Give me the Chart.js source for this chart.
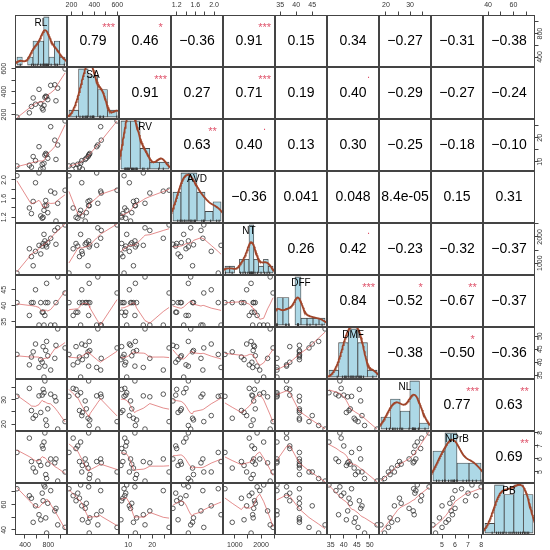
<!DOCTYPE html>
<html>
<head>
<meta charset="utf-8">
<script src="https://cdn.jsdelivr.net/npm/chart.js@4.4.1/dist/chart.umd.min.js"></script>
<style>
  html, body { margin:0; padding:0; background:#fff; }
  #wrap { position:relative; width:550px; height:550px; overflow:hidden; background:#fff; }
  #wrap canvas { position:absolute; }
</style>
</head>
<body>
<div id="wrap"></div>
<script>
// ================== DATA ==================
const varNames = ["RL", "SA", "RV", "AVD", "NT", "DFF", "DMF", "NL", "NPrB", "PB"];

const RL   = [262, 475, 510, 540, 580, 640, 670, 695, 710, 725, 740, 755, 770, 790, 840, 910, 930, 960, 1086];
const SA   = [178, 215, 270, 345, 290, 420, 295, 255, 240, 280, 350, 360, 355, 330, 455, 460, 320, 430, 598];
const RV   = [8.3, 8.6, 7.8, 12.2, 10.5, 16.3, 7.0, 9.0, 7.3, 9.4, 12.8, 13.5, 13.0, 11.5, 24.6, 19.0, 11.0, 17.0, 27.0];
const AVD  = [2.09, 1.40, 1.28, 1.54, 1.94, 2.15, 1.23, 1.18, 1.20, 1.35, 1.45, 1.56, 1.45, 1.30, 1.76, 1.72, 1.12, 1.50, 1.78];
const NT   = [620, 1550, 1250, 900, 1450, 1680, 1350, 1650, 1750, 2100, 1850, 1700, 1620, 1780, 1950, 2250, 1720, 2350, 2460];
const DFF  = [41, 37, 41, 41, 45, 34, 41, 38, 38, 34, 37, 41, 47, 41, 34, 34, 41, 49, 44];
const DMF  = [43, 39, 42, 44, 47, 38, 41, 40, 46, 34.3, 38.5, 44.5, 48, 42.5, 37, 41.5, 46.5, 52.8, 45.5];
const NL   = [31.5, 34.8, 25.6, 22.4, 23.5, 31.7, 24.8, 32, 34.4, 33.0, 37.9, 21.7, 19.4, 26.3, 32.4, 31.3, 29.6, 17.9, 21];
const NPrB = [6.5, 7.6, 5.8, 5.3, 5.0, 5.8, 5.5, 7.0, 6.8, 7.3, 8.0, 4.8, 4.5, 5.6, 6.0, 5.7, 6.0, 4.3, 5.0];
const PB   = [72.5, 67, 65, 46, 59, 52, 48, 69, 63, 75.5, 74, 49.5, 37.5, 61, 71, 55, 57, 44, 42];
const series = [RL, SA, RV, AVD, NT, DFF, DMF, NL, NPrB, PB];

// histogram breaks of the diagonal panels
const histBreaks = [
  [200, 300, 400, 500, 600, 700, 800, 900, 1000, 1100],
  [100, 200, 300, 400, 500, 600],
  [5, 10, 15, 20, 25, 30],
  [1.0, 1.2, 1.4, 1.6, 1.8, 2.0, 2.2],
  [600, 800, 1000, 1200, 1400, 1600, 1800, 2000, 2200, 2400, 2600],
  [34, 36, 38, 40, 42, 44, 46, 48, 50],
  [30, 35, 40, 45, 50, 55],
  [15, 20, 25, 30, 35, 40],
  [4, 5, 6, 7, 8],
  [30, 40, 50, 60, 70, 80]
];

// outer axis ticks and their labels ('' = tick without label)
const axisTicks = [
  [400, 600, 800, 1000],
  [200, 300, 400, 500, 600],
  [10, 15, 20, 25],
  [1.2, 1.4, 1.6, 1.8, 2.0],
  [1000, 1500, 2000, 2500],
  [35, 40, 45],
  [35, 40, 45, 50],
  [20, 25, 30, 35],
  [5, 6, 7, 8],
  [40, 50, 60, 70]
];
const axisLabels = [
  ["400", "", "800", ""],
  ["200", "", "400", "", "600"],
  ["10", "", "20", ""],
  ["1.2", "", "1.6", "", "2.0"],
  ["1000", "", "2000", ""],
  ["35", "40", "45"],
  ["35", "40", "45", "50"],
  ["20", "", "30", ""],
  ["5", "6", "7", "8"],
  ["40", "", "60", ""]
];

// upper triangle, row by row
const corrText = [
  ["0.79", "0.46", "\u22120.36", "0.91", "0.15", "0.34", "\u22120.27", "\u22120.31", "\u22120.38"],
  ["0.91", "0.27", "0.71", "0.19", "0.40", "\u22120.29", "\u22120.27", "\u22120.24"],
  ["0.63", "0.40", "0.13", "0.30", "\u22120.25", "\u22120.18", "\u22120.10"],
  ["\u22120.36", "0.041", "0.048", "8.4e-05", "0.15", "0.31"],
  ["0.26", "0.42", "\u22120.23", "\u22120.32", "\u22120.37"],
  ["0.84", "\u22120.52", "\u22120.67", "\u22120.37"],
  ["\u22120.38", "\u22120.50", "\u22120.36"],
  ["0.77", "0.63"],
  ["0.69"]
];
const corrStars = [
  ["***", "*", "", "***", "", "", "", "", ""],
  ["***", "", "***", "", ".", "", "", ""],
  ["**", ".", "", "", "", "", ""],
  ["", "", "", "", "", ""],
  ["", ".", "", "", ""],
  ["***", "*", "**", ""],
  ["", "*", ""],
  ["***", "**"],
  ["**"]
];

// ================== CONFIG ==================
const FONT = "'Liberation Sans', Arial, Helvetica, sans-serif";
const CELL = 52, X0 = 15, Y0 = 15, M = 15, TICK = 3.5;
const N = series.length;

// ================== HELPERS ==================
function extRange(v){
  const lo = Math.min(...v), hi = Math.max(...v), r = hi - lo;
  return [lo - 0.04 * r, hi + 0.04 * r];
}

function histogram(v, br){
  const counts = new Array(br.length - 1).fill(0);
  v.forEach(x => {
    for(let k = 0; k < br.length - 1; k++){
      const inLow = k === 0 ? x >= br[k] - 1e-9 : x > br[k] + 1e-9;
      if(inLow && x <= br[k + 1] + 1e-9){ counts[k]++; break; }
    }
  });
  return counts;
}

function quantile7(s, p){
  const h = (s.length - 1) * p, lo = Math.floor(h);
  const hi = Math.min(lo + 1, s.length - 1);
  return s[lo] + (h - lo) * (s[hi] - s[lo]);
}

function kde(v){
  const n = v.length;
  const mean = v.reduce((a, b) => a + b, 0) / n;
  const sd = Math.sqrt(v.reduce((a, b) => a + (b - mean) ** 2, 0) / (n - 1));
  const s = [...v].sort((a, b) => a - b);
  const iqr = quantile7(s, 0.75) - quantile7(s, 0.25);
  const bw = 0.9 * Math.min(sd, iqr / 1.34) * Math.pow(n, -0.2);
  const lo = s[0] - 3 * bw, hi = s[n - 1] + 3 * bw;
  const pts = [];
  for(let k = 0; k <= 160; k++){
    const x = lo + (hi - lo) * k / 160;
    let sum = 0;
    v.forEach(d => { const z = (x - d) / bw; sum += Math.exp(-0.5 * z * z); });
    pts.push({ x, y: sum / (n * bw * Math.sqrt(2 * Math.PI)) });
  }
  return pts;
}

// R's lowess (f = 2/3, iter = 3), as used by panel.smooth
function lowess(xIn, yIn, f, iter){
  const n = xIn.length;
  const ord = xIn.map((_, k) => k).sort((a, b) => xIn[a] - xIn[b]);
  const x = ord.map(k => xIn[k]), y = ord.map(k => yIn[k]);
  const ns = Math.max(2, Math.min(n, Math.floor(f * n + 1e-7)));
  const range = x[n - 1] - x[0];
  let rw = new Array(n).fill(1);
  const fit = new Array(n).fill(0);
  for(let it = 0; it <= iter; it++){
    let nleft = 0, nright = ns - 1;
    for(let i = 0; i < n; i++){
      while(nright < n - 1 && x[i] - x[nleft] > x[nright + 1] - x[i]){ nleft++; nright++; }
      const h = Math.max(x[i] - x[nleft], x[nright] - x[i]);
      const w = new Array(n).fill(0);
      let a = 0;
      for(let j = 0; j < n; j++){
        const r = Math.abs(x[j] - x[i]);
        if(r <= 0.999 * h){
          w[j] = (r <= 0.001 * h ? 1 : Math.pow(1 - Math.pow(r / h, 3), 3)) * rw[j];
          a += w[j];
        }
      }
      if(a <= 0){ fit[i] = y[i]; continue; }
      for(let j = 0; j < n; j++) w[j] /= a;
      if(h > 0){
        let xm = 0;
        for(let j = 0; j < n; j++) xm += w[j] * x[j];
        let c = 0;
        for(let j = 0; j < n; j++) c += w[j] * (x[j] - xm) ** 2;
        if(Math.sqrt(c) > 0.001 * range){
          const b = (x[i] - xm) / c;
          for(let j = 0; j < n; j++) w[j] *= b * (x[j] - xm) + 1;
        }
      }
      let s = 0;
      for(let j = 0; j < n; j++) s += w[j] * y[j];
      fit[i] = s;
    }
    if(it === iter) break;
    const res = y.map((v, k) => v - fit[k]);
    const ar = res.map(Math.abs).sort((p, q) => p - q);
    const m1 = Math.floor(n / 2);
    const cmad = n % 2 ? 6 * ar[m1] : 3 * (ar[m1 - 1] + ar[m1]);
    if(cmad < 1e-7 * ar.reduce((p, q) => p + q, 0) / n) break;
    rw = res.map(r => {
      r = Math.abs(r);
      return r <= 0.001 * cmad ? 1 : r > 0.999 * cmad ? 0 : (1 - (r / cmad) ** 2) ** 2;
    });
  }
  return x.map((v, k) => ({ x: v, y: fit[k] }));
}

const measureCtx = document.createElement('canvas').getContext('2d');
measureCtx.font = `7px ${FONT}`;
function widest(labels){
  return Math.max(...labels.map(s => measureCtx.measureText(s).width));
}

// ================== PANEL PLUGIN ==================
const panelPlugin = {
  id: 'panel',
  afterDatasetsDraw(chart, args, opts){
    const { ctx, chartArea: a } = chart;
    const w = a.right - a.left, h = a.bottom - a.top;
    ctx.save();
    ctx.textAlign = 'center';
    ctx.textBaseline = 'middle';
    if(opts.label){
      ctx.font = `10px ${FONT}`;
      ctx.fillStyle = '#000';
      ctx.fillText(opts.label, a.left + w / 2, a.top + h * 0.167);
    }
    if(opts.corr){
      ctx.font = `14px ${FONT}`;
      ctx.fillStyle = '#000';
      ctx.fillText(opts.corr, a.left + w / 2, a.top + h / 2);
    }
    if(opts.stars){
      ctx.font = `11px ${FONT}`;
      ctx.fillStyle = '#DF536B';
      const dy = opts.stars === '.' ? -2 : 2.5;
      ctx.fillText(opts.stars, a.left + 0.8 * w, a.top + 0.2 * h + dy);
    }
    ctx.strokeStyle = '#444';
    ctx.lineWidth = 1;
    ctx.strokeRect(a.left + 0.5, a.top + 0.5, w - 1, h - 1);
    ctx.restore();
  }
};
Chart.register(panelPlugin);

// ================== AXES ==================
function axisOpts(pos, k, show){
  const horizontal = pos === 'top' || pos === 'bottom';
  const range = extRange(series[k]);
  const tv = axisTicks[k], tl = axisLabels[k];
  let pad = 2.7;
  if(pos === 'left') pad = 10.8 - TICK - widest(tl) / 2;
  if(pos === 'right') pad = 5 - TICK - widest(tl) / 2;
  const o = {
    type: 'linear', position: pos, display: show, min: range[0], max: range[1], offset: false,
    grid: { display: true, drawOnChartArea: false, drawTicks: true, tickLength: TICK, color: '#444', lineWidth: 1 },
    border: { display: false },
    ticks: {
      autoSkip: false, padding: pad, color: '#333',
      font: { size: 7, family: FONT },
      callback: (v, idx) => tl[idx] || ''
    },
    afterBuildTicks: s => { s.ticks = tv.map(v => ({ value: v })); },
    afterFit: s => {
      const size = show ? M : 0;
      if(horizontal){ s.height = size; s.paddingLeft = 0; s.paddingRight = 0; }
      else { s.width = size; s.paddingTop = 0; s.paddingBottom = 0; }
    }
  };
  if(horizontal){ o.ticks.minRotation = 0; o.ticks.maxRotation = 0; }
  else { o.ticks.minRotation = 90; o.ticks.maxRotation = 90; o.ticks.crossAlign = 'center'; }
  return o;
}

// ================== PANELS ==================
function diagConfig(k){
  const v = series[k], br = histBreaks[k];
  const counts = histogram(v, br);
  const bars = counts.map((c, b) => ({
    x: (br[b] + br[b + 1]) / 2,
    y: c / (v.length * (br[b + 1] - br[b]))
  }));
  const m = Math.max(...bars.map(p => p.y));
  const span = br[br.length - 1] - br[0];
  const yMin = -0.04 * m, yMax = 1.04 * m;
  const rug = v.map(x => ({ x, y: yMin + (yMax - yMin) * 1.7 / CELL }));
  return {
    type: 'bar',
    data: {
      datasets: [
        { type: 'line', data: kde(v), borderColor: '#A0452A', borderWidth: 1.8,
          pointRadius: 0, tension: 0, order: 0 },
        { type: 'scatter', data: rug, pointStyle: 'line', rotation: 90, radius: 1.7,
          borderColor: '#333', borderWidth: 1, order: 1 },
        { type: 'bar', data: bars, backgroundColor: '#ADD8E6', borderColor: '#444',
          borderWidth: 0.8, borderSkipped: false, barPercentage: 1, categoryPercentage: 1, order: 2 }
      ]
    },
    options: {
      scales: {
        x: { type: 'linear', display: false, offset: false,
             min: br[0] - 0.04 * span, max: br[br.length - 1] + 0.04 * span,
             afterBuildTicks: s => { s.ticks = br.map(b => ({ value: b })); } },
        y: { type: 'linear', display: false, min: yMin, max: yMax }
      },
      plugins: { panel: { label: varNames[k] } }
    }
  };
}

function scatterConfig(i, j){
  const pts = series[j].map((x, k) => ({ x, y: series[i][k] }));
  return {
    type: 'scatter',
    data: {
      datasets: [
        { data: lowess(series[j], series[i], 2 / 3, 3), showLine: true, pointRadius: 0,
          borderColor: 'rgba(214,80,80,0.65)', borderWidth: 1, order: 0 },
        { data: pts, pointRadius: 2.3, borderColor: '#333', borderWidth: 0.8,
          backgroundColor: 'rgba(0,0,0,0)', order: 1 }
      ]
    },
    options: { plugins: { panel: {} } }
  };
}

function corrConfig(i, j){
  return {
    type: 'scatter',
    data: { datasets: [] },
    options: { plugins: { panel: { corr: corrText[i][j - i - 1], stars: corrStars[i][j - i - 1] } } }
  };
}

// ================== BUILD GRID ==================
const wrap = document.getElementById('wrap');

function buildCell(i, j){
  const cv = document.createElement('canvas');
  cv.width = CELL + 2 * M;
  cv.height = CELL + 2 * M;
  cv.style.left = (X0 + CELL * j - M) + 'px';
  cv.style.top = (Y0 + CELL * i - M) + 'px';
  wrap.appendChild(cv);

  const hasTop = i === 0 && j % 2 === 1;
  const hasBottom = i === N - 1 && j % 2 === 0;
  const hasLeft = j === 0 && i % 2 === 1;
  const hasRight = j === N - 1 && i % 2 === 0;

  let cfg;
  if(i === j) cfg = diagConfig(i);
  else {
    cfg = i > j ? scatterConfig(i, j) : corrConfig(i, j);
    cfg.options.scales = {
      x: axisOpts(hasTop ? 'top' : 'bottom', j, hasTop || hasBottom),
      y: axisOpts(hasLeft ? 'left' : 'right', i, hasLeft || hasRight)
    };
  }
  const o = cfg.options;
  o.responsive = false;
  o.animation = false;
  o.devicePixelRatio = 1;
  o.events = [];
  o.layout = { autoPadding: false, padding: {
    top: hasTop ? 0 : M, bottom: hasBottom ? 0 : M,
    left: hasLeft ? 0 : M, right: hasRight ? 0 : M
  } };
  o.plugins.legend = { display: false };
  o.plugins.tooltip = { enabled: false };
  new Chart(cv, cfg);
}

for(let i = 0; i < N; i++){
  for(let j = 0; j < N; j++) buildCell(i, j);
}
</script>
</body>
</html>
